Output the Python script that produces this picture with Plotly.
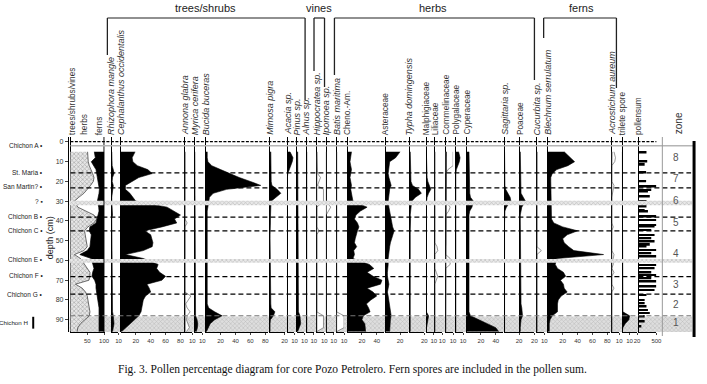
import plotly.graph_objects as go

W, H = 707, 384
def px(x): return x / W
def py(y): return 1 - y / H

# ---------------- data ----------------
depth_cm = [5, 8, 10, 12, 14, 16, 18, 20, 22, 24,
            26, 28, 30, 33, 35, 37, 39, 41, 43, 45,
            47, 49, 51, 53, 55, 57, 59, 62, 64, 66,
            68, 70, 72, 74, 76, 78, 80, 82, 84, 86,
            88, 90, 92, 94, 96]

trees_shrubs_vines = [51, 52, 53, 56, 62, 66, 70, 68, 60, 50,
                      40, 25, 12, 22, 45, 70, 78, 70, 52, 42,
                      44, 46, 48, 50, 40, 12, 30, 42, 52, 58,
                      58, 55, 15, 35, 45, 50, 52, 54, 56, 58,
                      56, 42, 30, 22, 20]
herbs = [20, 22, 9, 12, 14, 12, 10, 16, 25, 36,
         45, 57, 68, 62, 40, 12, 2, 6, 6, 14,
         18, 14, 12, 8, 10, 16, 32, 24, 18, 8,
         6, 17, 61, 41, 33, 30, 30, 30, 29, 27,
         29, 43, 55, 63, 65]

rhizophora_mangle = [1, 1, 1, 1.5, 3, 4, 2, 1.5, 3, 2,
                     1.5, 1, 1, 1.5, 1, 2, 1, 1, 1, 1,
                     1, 1, 1, 1, 1, 1, 1, 1, 1, 1,
                     1, 1, 1, 1, 1, 1, 1, 1, 1.5, 2,
                     3, 4, 4, 3, 2]
cephalanthus_occidentalis = [19, 15, 16, 22, 36, 42, 24, 15, 6, 6,
                             12, 16, 20, 62, 72, 80, 72, 75, 55, 32,
                             40, 42, 43, 42, 30, 6, 30, 50, 48, 52,
                             60, 55, 35, 38, 40, 33, 30, 29, 28, 27,
                             24, 18, 12, 6, 1]
annona_glabra = [0, 0, 0, 0, 0, 0, 0, 0, 0, 0,
                 0, 0, 0, 0, 0, 0, 0, 0.3, 0, 0,
                 0, 0, 0, 0, 0, 0, 0, 0, 0, 0,
                 0, 0, 0, 0, 0, 0.8, 0.5, 0.1, 0.3, 0.7,
                 0.3, 0.2, 0.4, 0.6, 0.2]
myrica_cerifera = [0, 0, 0, 0, 0, 0, 0, 0, 0, 0,
                   0, 0, 0, 0, 0, 0, 0, 0, 0, 0,
                   0, 0, 0, 0, 0, 0, 0, 0, 0, 0,
                   0, 0, 0, 0, 0, 0, 0, 0, 0.3, 0.5,
                   1, 3, 4, 3.5, 2]
bucida_buceras = [2, 2, 3, 8, 20, 32, 45, 60, 74, 28,
                  10, 5, 4, 3, 2, 2, 2, 2, 1, 1,
                  1, 1, 1, 1, 1, 1, 1, 1, 1, 1,
                  1, 1, 1, 1, 1, 1, 2, 2, 4, 12,
                  22, 12, 6, 3, 1]
mimosa_pigra = [1.5, 1.5, 2, 2, 2, 1.5, 1.5, 2, 3, 10,
                15, 8, 2, 1.5, 1, 1, 1, 1, 0.5, 0.5,
                0.5, 0.5, 0.5, 0.5, 0.5, 0.5, 0.5, 0.5, 0.5, 0.5,
                0.5, 0.5, 0.5, 0.5, 0.5, 0.5, 1, 1.5, 2, 7,
                5, 1, 0.5, 0.5, 0.5]
acacia = [4, 8, 7, 5, 2, 1, 0.5, 0.5, 0.5, 0.5,
          0.5, 0.5, 0.5, 0.5, 0.5, 0.5, 0.5, 0.5, 0.5, 0.5,
          1, 1, 0.5, 0.5, 0.5, 0.5, 0.5, 0.5, 0.5, 0.5,
          0.5, 0.5, 0.5, 0.5, 0.5, 0.5, 0.5, 0.5, 0.5, 0.5,
          0.5, 0.5, 0.5, 0.5, 0.5]
pinus = [1, 1, 1, 1, 1, 1, 1.5, 1.5, 1, 1,
         1, 1, 1, 1, 1, 1, 1, 1, 1, 1,
         1.5, 1, 1, 1, 1, 1, 1, 1, 1, 1,
         1, 1, 1, 1, 1, 1, 1, 1, 1.5, 2,
         4, 5, 5, 3, 1]
alnus = [0.5, 0.5, 1, 0.5, 0.5, 0.5, 0.5, 0.5, 1, 0.5,
         0.5, 0.5, 0.5, 0.5, 0.5, 1, 0.5, 0.5, 0.5, 0.5,
         0.5, 0.5, 0.5, 0.5, 0.5, 0.5, 0.5, 0.5, 0.5, 0.5,
         0.5, 1, 0.5, 0.5, 0.5, 0.5, 0.5, 0.5, 0.5, 0.5,
         0.5, 0.5, 0.5, 0.5, 0.5]
hippocratea = [0, 0, 0, 0, 0, 0.1, 0.5, 0.3, 0.1, 0.9,
               0.9, 0.9, 0.9, 0, 0, 0, 0, 0, 0, 0.3,
               0, 0, 0, 0, 0, 0, 0, 0, 0, 0,
               0, 0, 0, 0, 0, 0, 0, 0, 0, 0,
               0.9, 0.9, 0.9, 0.9, 0]
ipomoea = [0, 0, 0, 0, 0, 0, 0, 0, 0, 0,
           0, 0, 0, 0.6, 0.3, 0, 0, 0, 0, 0,
           0, 0, 0, 0, 0, 0, 0, 0, 0, 0,
           0, 0, 0, 0, 0, 0, 0, 0, 0, 0,
           0, 0, 0, 0, 0]
batis_maritima = [0, 0, 0, 0, 0, 0, 0, 0, 0, 0,
                  0, 0, 0, 0, 0, 0, 0, 0, 0, 0,
                  0, 0, 0, 0, 0, 0, 0, 0, 0, 0,
                  0, 0, 0, 0, 0, 0, 0, 0, 0, 0,
                  1, 1, 1, 1, 0]
cheno_am = [6, 5, 4, 5, 6, 5, 4, 5, 6, 5,
            6, 7, 8, 27, 18, 12, 10, 14, 16, 14,
            12, 11, 10, 13, 9, 10, 8, 30, 36, 27,
            35, 47, 45, 27, 35, 40, 32, 26, 29, 31,
            22, 20, 24, 25, 25]
asteraceae = [20, 14, 6, 5, 4, 4, 5, 6, 8, 6,
              5, 4, 4, 5, 6, 7, 8, 8, 10, 12,
              10, 8, 7, 6, 5, 4, 4, 4, 3, 3,
              3, 4, 5, 4, 3, 4, 5, 6, 7, 8,
              8, 7, 7, 6, 6]
typha_domingensis = [1, 1, 1, 1, 1, 1, 1.5, 2, 4, 12,
                     16, 8, 3, 2, 1.5, 1, 1.5, 1, 1, 1,
                     1, 1, 1, 1, 1, 1, 1, 1, 1, 1,
                     1, 1, 1, 1, 1, 1, 1, 1, 1, 1,
                     1.5, 1, 1, 1, 1]
malphigiaceae = [0, 0, 0, 0, 0, 0, 1, 2, 4, 6,
                 3, 1, 0.3, 0, 0, 0, 0, 0, 0, 0,
                 0, 0, 0, 0.2, 0, 0, 0, 0, 0, 0,
                 0, 0, 0, 0, 0, 0, 0, 0, 0, 0,
                 3, 2, 1, 0.3, 0]
liliaceae = [0, 0, 0, 0, 0, 0, 0, 0, 0, 0,
             0, 0, 0, 0, 0, 0, 0, 0, 0, 0,
             0, 0, 0, 0.3, 0.4, 0, 0, 0, 0, 0.2,
             0.4, 0.2, 0, 0, 0, 0, 0, 0, 0, 0,
             0, 0, 0, 0, 0]
commelinaceae = [1, 1, 1, 1, 0.3, 0, 0, 0, 0, 0,
                 0, 0, 0, 0.6, 0.4, 0, 0, 0, 0, 0,
                 0, 0, 0, 0, 0, 0, 0.6, 0.6, 0, 0,
                 0, 0, 0, 0, 0, 0, 0, 0, 0, 0,
                 0, 0, 0, 0, 0]
polygalaceae = [4, 6, 5, 3, 1, 0.3, 0.3, 0.3, 0.3, 0.3,
                0.3, 0.5, 0.5, 0.3, 0.3, 0.3, 0.3, 0.3, 0.3, 0.3,
                0.3, 0.3, 0.3, 0.3, 0.3, 0.3, 0.3, 0.3, 0.3, 0.3,
                0.3, 0.3, 0.3, 0.3, 0.3, 0.3, 0.3, 0.3, 0.3, 0.3,
                0.3, 0.3, 0.3, 0.3, 0.3]
cyperaceae = [4, 4, 4, 4, 4, 4, 4, 4, 4, 5,
              5, 6, 10, 8, 5, 4, 4, 4, 4, 4,
              4, 4, 4, 4, 4, 4, 4, 4, 4, 4,
              4, 4, 4, 4, 4, 4, 4, 4, 4, 4,
              6, 18, 30, 40, 44]
sagittaria = [0.5, 0.5, 0.5, 0.5, 0.5, 0.5, 0.5, 0.5, 1, 2,
              5, 8, 9, 3, 1, 0.5, 0.5, 0.5, 0.5, 0.5,
              0.5, 0.5, 0.5, 0.5, 0.5, 0.5, 0.5, 0.5, 0.5, 0.5,
              0.5, 0.5, 0.5, 0.5, 0.5, 0.5, 0.5, 0.5, 0.5, 1,
              1, 1, 1, 0.5, 0.5]
poaceae = [1, 1, 1, 1, 1, 1, 1, 1, 1, 1.5,
           2, 5, 8, 3, 1.5, 1, 1, 1, 1, 1,
           1, 1, 1, 1, 1, 1, 1, 1, 1, 1,
           1, 1, 1, 1, 1, 1, 1.5, 2, 3, 4,
           4, 2, 1, 1, 1]
cucurbita = [0, 0, 0, 0, 0, 0, 0, 0, 0, 0,
             0, 0, 0, 0, 0, 0, 0, 0, 0, 0,
             0, 0, 0, 0, 0.6, 0, 0, 0, 0, 0,
             0, 0, 0, 0, 0, 0, 0, 0, 0, 0,
             0, 0, 0, 0, 0]
blechnum_serrulatum = [22, 30, 36, 27, 12, 6, 4, 4, 4, 5,
                       4, 4, 5, 4, 4, 5, 5, 8, 20, 40,
                       26, 20, 22, 28, 35, 75, 12, 10, 13, 21,
                       24, 17, 21, 22, 26, 18, 14, 13, 13, 13,
                       6, 3, 2, 2, 2]
acrostichum_aureum = [0.3, 0.5, 0.4, 0, 0, 0, 0, 0, 0.3, 0.2,
                      0, 0, 0, 0, 0, 0, 0, 0, 0.2, 0,
                      0, 0, 0, 0, 0, 0.3, 0.2, 0.2, 0, 0.3,
                      0, 0, 0, 0.3, 0, 0, 0, 0, 0, 0,
                      0, 0, 0, 0, 0]
trilete_spore = [0, 0, 0, 0, 0, 0, 0, 0, 0, 0,
                 0, 0, 0, 0, 0, 0, 0, 0, 0, 0,
                 0, 0, 0, 0, 0, 0, 0, 0, 0, 0,
                 0, 0, 0, 0, 0, 0, 0, 0, 0, 1,
                 10, 9, 4, 1, 0]

pollensum_depth = [5.4, 10, 11.6, 15.5, 20, 22.6, 24.3, 25.1, 27.7, 30.2,
                   32.7, 34.4, 35.3, 37.8, 39.5, 42, 42.9, 44.6, 47.1, 48.8,
                   50.5, 52.1, 53, 54.7, 56.4, 58, 62.3, 64, 66.2, 67.3,
                   69, 70.7, 73.2, 74.9, 77.5, 80, 81.7, 83.4, 85.1, 86.7,
                   88.4, 91, 93.5]
pollensum = [230, 250, 180, 220, 220, 500, 360, 270, 320, 230,
             230, 180, 270, 500, 500, 500, 450, 360, 450, 360,
             450, 320, 230, 500, 360, 500, 500, 450, 360, 500,
             360, 500, 500, 450, 230, 180, 180, 230, 270, 320,
             180, 180, 90]

sample_labels = ["Chichon A", "St. Maria", "San Martin?", "?", "Chichon B",
                 "Chichon C", "Chichon E", "Chichon F", "Chichon G", "Chichon H"]
sample_depths = [2, 15.5, 22.6, 30.2, 37.5, 44.9, 59.4, 67.8, 77, 91.5]

horizon_depths = [15.7, 23.3, 38.1, 45.0, 68.2, 77.0]
horizon_depth_faint = [88.0]
tephra_bands = [(29.8, 32.0), (59.2, 61.2)]
basal_band = (88.4, 96.2)

zone_labels = ["8", "7", "6", "5", "4", "3", "2", "1"]
zone_depths = [8, 18.7, 29.8, 41, 56.7, 72.4, 82.5, 91.6]

groups = [("trees/shrubs", 207, 108.3, 307.7, 55, 100),
          ("vines", 321.5, 316.7, 327.3, 71, 87),
          ("herbs", 437, 337.3, 539, 75, 80),
          ("ferns", 586, 548.3, 621.7, 38, 88)]

# ---------------- layout helpers ----------------
Y_TOP_PX, Y_BOT_PX = 137, 332
DEPTH_TOP, DEPTH_BOT = -2.5, 96.2
SCALE = 0.75          # px per percent
FONT = "Liberation Sans, Arial, sans-serif"

fig = go.Figure()
layout = dict(
    width=W, height=H, margin=dict(l=0, r=0, t=0, b=0),
    paper_bgcolor="white", plot_bgcolor="rgba(0,0,0,0)",
    showlegend=False,
    yaxis=dict(domain=[py(Y_BOT_PX), py(Y_TOP_PX)], range=[DEPTH_BOT, DEPTH_TOP],
               anchor="free", position=px(68.5), side="left",
               showline=True, linecolor="black", linewidth=1,
               ticks="outside", ticklen=3, tickwidth=1,
               tickvals=[0, 10, 20, 30, 40, 50, 60, 70, 80, 90],
               tickfont=dict(size=7, family=FONT, color="#333"),
               showgrid=False, zeroline=False),
)

def common_axis(dom_l, dom_r, rng, ticks):
    return dict(domain=[px(dom_l), px(dom_r)], range=rng, anchor="y",
                showgrid=False, zeroline=True, zerolinecolor="black", zerolinewidth=1.4,
                showline=True, linecolor="black", linewidth=0.8,
                ticks="outside", ticklen=2.5, tickwidth=0.8, tickangle=0,
                tickvals=ticks, tickfont=dict(size=6, family=FONT, color="#333"))

# overlay axis for basal band (drawn first -> beneath)
layout["xaxis"] = dict(domain=[px(70), px(698)], range=[0, 1], anchor="y", visible=False)
fig.add_trace(go.Scatter(x=[0, 1, 1, 0, 0],
                         y=[basal_band[0], basal_band[0], basal_band[1], basal_band[1], basal_band[0]],
                         xaxis="x", yaxis="y", mode="lines", fill="toself",
                         line=dict(width=0), fillcolor="#d8d8d8",
                         fillpattern=dict(shape="x", fgcolor="#9a9a9a", bgcolor="#dedede",
                                          size=3, solidity=0.35),
                         hoverinfo="skip"))

annotations = []
shapes = []

def header(text, x, italic):
    t = f"<i>{text}</i>" if italic else text
    annotations.append(dict(text=t, x=px(x), y=py(Y_TOP_PX - 1), xref="paper", yref="paper",
                            xanchor="center", yanchor="bottom", textangle=-90,
                            showarrow=False, borderpad=0,
                            font=dict(size=9 if italic else 8.3, family=FONT, color="#333")))

# ---- panel 1: cumulative trees/shrubs/vines, herbs, ferns ----
ax = 2
cum = [t + h for t, h in zip(trees_shrubs_vines, herbs)]
layout[f"xaxis{ax}"] = common_axis(70.5, 105.5, [-1.5, 101.5], [50, 100])
fig.add_trace(go.Scatter(x=trees_shrubs_vines, y=depth_cm, xaxis=f"x{ax}", yaxis="y",
                         mode="lines", fill="tozerox", line=dict(color="#333", width=0.7),
                         fillcolor="#cfcfcf",
                         fillpattern=dict(shape="x", fgcolor="#6e6e6e", bgcolor="#e6e6e6",
                                          size=3, solidity=0.4),
                         hoverinfo="skip"))
fig.add_trace(go.Scatter(x=[100] * len(depth_cm), y=depth_cm, xaxis=f"x{ax}", yaxis="y",
                         mode="lines", line=dict(width=0), hoverinfo="skip"))
fig.add_trace(go.Scatter(x=cum, y=depth_cm, xaxis=f"x{ax}", yaxis="y", mode="lines",
                         fill="tonextx", fillcolor="black", line=dict(color="black", width=0.7),
                         hoverinfo="skip"))
shapes.append(dict(type="line", xref=f"x{ax}", yref="y domain", x0=100, x1=100, y0=0, y1=1,
                   line=dict(color="black", width=1.2)))
header("trees/shrubs/vines", 72, False)
header("herbs", 84, False)
header("ferns", 100, False)

# ---- taxon panels ----
panels = [
    ("Rhizophora mangle", True, rhizophora_mangle, 112, 10, [10], False),
    ("Cephalanthus occidentalis", True, cephalanthus_occidentalis, 122, 85, [20, 40, 60, 80], False),
    ("Annona glabra", True, annona_glabra, 186.5, 10, [10], True),
    ("Myrica cerifera", True, myrica_cerifera, 196.5, 10, [10], False),
    ("Bucida buceras", True, bucida_buceras, 207.5, 84, [20, 40, 60, 80], False),
    ("Mimosa pigra", True, mimosa_pigra, 272, 20, [20], False),
    ("Acacia sp.", True, acacia, 289.5, 10, [10], False),
    ("Pinus sp.", True, pinus, 299.5, 10, [10], False),
    ("Alnus sp.", True, alnus, 309, 10, [10], False),
    ("Hippocratea sp.", True, hippocratea, 319.5, 10, [10], True),
    ("Ipomoea sp.", True, ipomoea, 329, 10, [10], True),
    ("Batis maritima", True, batis_maritima, 339.5, 10, [10], True),
    ("Cheno.-Am.", False, cheno_am, 350, 50, [20, 40], False),
    ("Asteraceae", False, asteraceae, 388.5, 30, [20], False),
    ("Typha domingensis", True, typha_domingensis, 413, 20, [20], False),
    ("Malphigiaceae", False, malphigiaceae, 430, 10, [10], False),
    ("Liliaceae", False, liliaceae, 438.5, 10, [10], True),
    ("Commelinaceae", False, commelinaceae, 449.5, 10, [10], True),
    ("Polygalaceae", False, polygalaceae, 459.5, 10, [10], False),
    ("Cyperaceae", False, cyperaceae, 470, 50, [20, 40], False),
    ("Sagittaria sp.", True, sagittaria, 508.5, 20, [20], False),
    ("Poaceae", False, poaceae, 524, 20, [20], False),
    ("Cucurbita sp.", True, cucurbita, 541.5, 10, [10], True),
    ("Blechnum serrulatum", True, blechnum_serrulatum, 552.5, 84, [20, 40, 60, 80], False),
    ("Acrostichum aureum", True, acrostichum_aureum, 617, 10, [10], True),
    ("trilete spore", False, trilete_spore, 627.5, 20, [10, 20], False),
]
EXAG = 10
LEFT_PAD = 0.6
for label, italic, vals, base, rmax, ticks, exag in panels:
    ax += 1
    layout[f"xaxis{ax}"] = common_axis(base - LEFT_PAD * SCALE, base + rmax * SCALE,
                                       [-LEFT_PAD, rmax], ticks)
    if exag:
        fig.add_trace(go.Scatter(x=[v * EXAG for v in vals], y=depth_cm, xaxis=f"x{ax}", yaxis="y",
                                 mode="lines", fill="tozerox", fillcolor="white",
                                 line=dict(color="#555", width=0.6), hoverinfo="skip"))
    fig.add_trace(go.Scatter(x=vals, y=depth_cm, xaxis=f"x{ax}", yaxis="y", mode="lines",
                             fill="tozerox", fillcolor="black",
                             line=dict(color="black", width=0.6), hoverinfo="skip"))
    header(label, base, italic)

# ---- pollen sum ----
ax += 1
ps_base, ps_max, ps_w = 643.5, 500, 18.5
layout[f"xaxis{ax}"] = common_axis(ps_base - 0.5, ps_base + ps_w, [-500 * 0.5 / ps_w, ps_max], [500])
fig.add_trace(go.Bar(x=pollensum, y=pollensum_depth, orientation="h", width=0.9,
                     xaxis=f"x{ax}", yaxis="y", marker=dict(color="black", line=dict(width=0)),
                     hoverinfo="skip"))
header("pollensum", ps_base, False)

# ---- overlay axis for thin tephra bands (drawn last -> on top) ----
ax += 1
layout[f"xaxis{ax}"] = dict(domain=[px(70), px(698)], range=[0, 1], anchor="y", visible=False)
for d0, d1 in tephra_bands:
    fig.add_trace(go.Scatter(x=[0, 1, 1, 0, 0], y=[d0, d0, d1, d1, d0], xaxis=f"x{ax}", yaxis="y",
                             mode="lines", fill="toself", line=dict(width=0), fillcolor="#dcdcdc",
                             fillpattern=dict(shape="x", fgcolor="#8c8c8c", bgcolor="#e8e8e8",
                                              size=3, solidity=0.35),
                             hoverinfo="skip"))

# ---- horizons ----
for d in horizon_depths:
    shapes.append(dict(type="line", xref="paper", yref="y", x0=px(71), x1=px(697), y0=d, y1=d,
                       line=dict(color="black", width=1.3, dash="5px,3px"), layer="above"))
for d in horizon_depth_faint:
    shapes.append(dict(type="line", xref="paper", yref="y", x0=px(71), x1=px(697), y0=d, y1=d,
                       line=dict(color="#777", width=1.1, dash="5px,3px"), layer="above"))

# top dotted + grey lines
shapes.append(dict(type="line", xref="paper", yref="paper", x0=px(71), x1=px(662),
                   y0=py(141.7), y1=py(141.7), line=dict(color="black", width=1.2, dash="3px,1.5px")))
shapes.append(dict(type="line", xref="paper", yref="paper", x0=px(71), x1=px(700),
                   y0=py(145.7), y1=py(145.7), line=dict(color="#b5b5b5", width=1.6)))

# zone column
shapes.append(dict(type="line", xref="paper", yref="paper", x0=px(668), x1=px(668),
                   y0=py(137), y1=py(336), line=dict(color="#999", width=1)))
shapes.append(dict(type="line", xref="paper", yref="paper", x0=px(700), x1=px(700),
                   y0=py(141), y1=py(337), line=dict(color="black", width=3)))
for lab, d in zip(zone_labels, zone_depths):
    annotations.append(dict(text=lab, x=px(682), y=d, xref="paper", yref="y", showarrow=False,
                            xanchor="center", yanchor="middle",
                            font=dict(size=10, family=FONT, color="#555")))
annotations.append(dict(text="zone", x=px(684), y=py(123), xref="paper", yref="paper",
                        xanchor="center", yanchor="middle",
                        textangle=-90, showarrow=False, font=dict(size=10, family=FONT, color="#333")))

# group brackets
for name, cx, xl, xr, yl, yr in groups:
    top = 18
    shapes.append(dict(type="line", xref="paper", yref="paper", x0=px(xl), x1=px(xr),
                       y0=py(top), y1=py(top), line=dict(color="#222", width=1.2)))
    shapes.append(dict(type="line", xref="paper", yref="paper", x0=px(xl), x1=px(xl),
                       y0=py(top), y1=py(yl), line=dict(color="#222", width=1.3)))
    shapes.append(dict(type="line", xref="paper", yref="paper", x0=px(xr), x1=px(xr),
                       y0=py(top), y1=py(yr), line=dict(color="#222", width=1.3)))
    annotations.append(dict(text=name, x=px(cx), y=py(8), xref="paper", yref="paper",
                            xanchor="center", yanchor="middle",
                            showarrow=False, font=dict(size=11, family=FONT, color="#222")))

# sample labels
for lab, d in zip(sample_labels, sample_depths):
    if lab == "Chichon H":
        annotations.append(dict(text=lab, x=px(30), y=d, xref="paper", yref="y", xanchor="right",
                                yanchor="middle", showarrow=False,
                                font=dict(size=6.2, family=FONT, color="#222")))
        shapes.append(dict(type="line", xref="paper", yref="y", x0=px(33.5), x1=px(33.5),
                           y0=d - 3, y1=d + 3, line=dict(color="black", width=2)))
    else:
        mark = " \u25aa" if lab == "?" else " \u2022"
        annotations.append(dict(text=lab + mark, x=px(45), y=d, xref="paper", yref="y",
                                xanchor="right", yanchor="middle", showarrow=False,
                                font=dict(size=6.5, family=FONT, color="#222")))

annotations.append(dict(text="depth (cm)", x=px(50), y=48.5, xref="paper", yref="y",
                        xanchor="center", yanchor="middle",
                        textangle=-90, showarrow=False,
                        font=dict(size=9, family=FONT, color="#222")))

annotations.append(dict(text="Fig. 3. Pollen percentage diagram for core Pozo Petrolero. "
                             "Fern spores are included in the pollen sum.",
                        x=px(355.5), y=py(369), xref="paper", yref="paper", showarrow=False,
                        xanchor="center", yanchor="middle",
                        font=dict(size=11.5, family="Liberation Serif, Times New Roman, serif",
                                  color="#111")))

layout["annotations"] = annotations
layout["shapes"] = shapes
fig.update_layout(**layout)
fig.write_html("out.html", config={"displayModeBar": False},
               post_script="document.body.style.margin='0';")
